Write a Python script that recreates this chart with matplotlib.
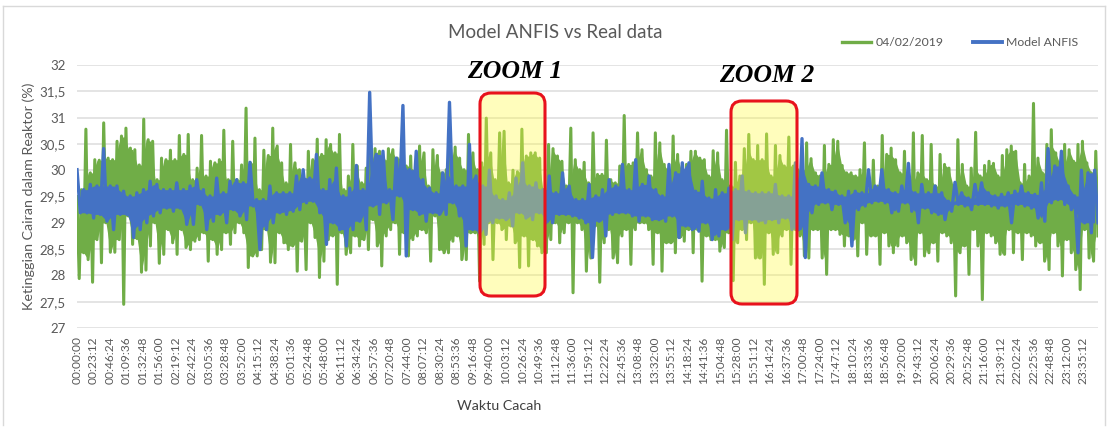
import numpy as np
import matplotlib
matplotlib.use('Agg')
import matplotlib.pyplot as plt
from matplotlib.lines import Line2D
from matplotlib.patches import FancyBboxPatch
from matplotlib.transforms import IdentityTransform

W, H = 1111, 443

# level readings (%), upper and lower swing of each sampling interval
real_high = [
    29.5, 29.63, 30.78, 29.95, 30.2, 30.19, 30.9, 30.23, 30.2, 30.55, 30.65, 30.8, 30.42, 30.39, 30.1,
    30.97, 30.58, 30.55, 29.82, 30.23, 30.2, 30.38, 30.2, 30.66, 30.3, 30.68, 29.82, 30.04, 30.66, 29.89,
    30.17, 30.14, 30.2, 30.76, 29.82, 30.55, 29.82, 30.1, 31.18, 30.14, 30.61, 29.63, 30.38, 30.28, 30.8,
    30.46, 30.14, 29.76, 30.49, 30.14, 30.01, 29.63, 30.36, 30.2, 30.59, 30.3, 30.58, 30.49, 30.33, 30.68,
    29.63, 29.89, 30.49, 30.08, 29.76, 30.04, 30.27, 30.41, 30.36, 30.2, 30.41, 30.39, 30.23, 30.27, 30.08,
    30.27, 30.0, 30.46, 30.33, 29.7, 30.39, 30.28, 29.95, 30.01, 30.39, 30.44, 30.23, 30.01, 30.68, 30.33, 30.01,
    30.14, 30.99, 30.33, 29.82, 30.71, 30.74, 29.76, 30.0, 29.97, 30.78, 30.27, 30.33, 30.33, 30.23, 29.63,
    30.49, 30.41, 30.27, 30.17, 29.7, 30.8, 30.2, 30.01, 30.15, 29.76, 30.71, 29.92, 29.92, 30.57, 29.82,
    29.76, 30.08, 31.04, 30.11, 30.14, 30.71, 30.39, 30.01, 29.89, 30.71, 30.52, 30.11, 30.01, 30.65, 30.3, 30.01,
    30.11, 30.36, 30.36, 30.23, 30.2, 29.89, 30.37, 30.33, 29.82, 30.76, 29.7, 30.15, 29.89, 30.41, 30.68,
    30.2, 30.47, 30.2, 30.69, 29.89, 30.47, 30.28, 30.08, 30.63, 30.08, 30.01, 30.01, 30.52, 30.22, 29.95,
    29.89, 30.47, 30.11, 30.58, 30.55, 30.09, 29.95, 29.95, 29.89, 30.01, 30.52, 29.63, 30.19, 29.7, 30.66, 30.3,
    30.42, 30.2, 29.95, 30.36, 29.76, 30.71, 29.95, 30.66, 29.82, 30.49, 29.7, 30.3, 30.11, 30.04, 29.7,
    30.58, 30.11, 29.7, 30.04, 30.72, 29.89, 30.09, 30.17, 30.13, 29.89, 30.28, 30.39, 30.46, 30.36, 29.76,
    30.11, 29.89, 31.27, 30.23, 29.95, 30.49, 30.77, 30.33, 30.11, 30.49, 30.39, 30.17, 30.49, 30.55, 30.14, 29.95, 30.36,
]
real_low = [
    27.94, 28.43, 28.3, 27.87, 28.68, 28.24, 29.0, 28.44, 28.44, 28.68, 27.45, 29.13, 28.59, 28.7, 28.06,
    28.1, 28.56, 29.0, 28.23, 28.4, 28.87, 28.62, 28.4, 28.87, 28.53, 28.49, 28.65, 28.68, 28.81, 28.27,
    28.68, 28.4, 28.49, 28.81, 28.59, 28.81, 29.0, 28.81, 28.15, 28.37, 28.37, 28.49, 28.87, 28.25, 28.24,
    28.81, 28.62, 28.49, 28.56, 28.08, 28.65, 28.11, 29.0, 28.72, 27.96, 28.27, 28.68, 28.75, 27.83, 28.81,
    28.4, 28.43, 28.75, 28.56, 28.68, 28.49, 29.06, 28.56, 28.18, 28.75, 28.87, 29.0, 28.4, 28.81, 28.37,
    28.68, 28.75, 28.87, 28.81, 28.27, 29.13, 28.49, 28.43, 28.43, 28.65, 28.75, 28.3, 28.3, 28.81, 28.81, 27.89,
    28.59, 29.0, 28.3, 29.0, 28.87, 28.68, 28.94, 28.62, 28.15, 28.75, 28.18, 28.68, 28.56, 28.43, 28.43,
    28.68, 29.0, 28.62, 28.81, 29.0, 27.67, 29.0, 28.87, 28.08, 28.33, 28.94, 27.87, 28.62, 28.87, 28.33,
    28.24, 28.75, 28.87, 28.21, 28.87, 29.0, 29.0, 28.87, 28.21, 28.81, 28.08, 28.62, 28.62, 28.43, 28.72, 28.65,
    28.87, 28.43, 28.87, 27.89, 28.75, 28.68, 28.68, 28.46, 28.53, 28.81, 27.9, 28.62, 28.87, 28.68, 29.0,
    28.33, 28.33, 27.83, 28.81, 28.4, 28.43, 28.75, 28.87, 28.21, 28.87, 28.75, 28.37, 28.33, 28.87, 28.87,
    28.33, 28.02, 28.87, 28.87, 28.78, 28.56, 28.75, 28.68, 28.37, 29.0, 28.4, 28.75, 28.75, 28.21, 28.81, 28.56,
    28.43, 28.56, 28.75, 28.62, 28.3, 28.21, 28.81, 28.37, 28.43, 28.62, 28.27, 28.81, 28.75, 28.62, 27.61,
    28.43, 28.56, 28.02, 28.87, 28.56, 27.54, 28.81, 28.75, 28.62, 28.4, 28.4, 28.87, 28.43, 28.81, 28.3,
    28.81, 28.75, 28.56, 28.62, 28.27, 28.11, 28.81, 28.56, 27.99, 28.68, 28.43, 28.11, 27.73, 28.87, 28.33, 28.27, 28.75,
]
model_high = [
    30.01, 29.63, 29.73, 29.7, 30.41, 29.7, 29.7, 29.6, 29.51, 29.57, 29.63, 29.79, 29.73, 29.63, 29.63,
    29.76, 29.63, 29.7, 29.82, 29.63, 29.51, 29.85, 29.57, 29.79, 29.82, 29.76, 30.15, 29.44, 29.44, 29.7,
    29.57, 29.57, 29.57, 29.89, 30.01, 29.85, 30.3, 29.63, 29.82, 30.04, 29.51, 29.66, 30.09, 29.63, 31.48,
    30.3, 30.36, 29.63, 30.23, 31.23, 30.01, 30.36, 29.82, 29.66, 29.57, 29.95, 31.29, 29.7, 29.7, 30.49, 29.89,
    29.7, 30.0, 29.51, 29.44, 29.57, 29.85, 30.14, 29.7, 29.76, 29.63, 29.89, 29.57, 29.95, 29.7, 29.44,
    29.44, 29.73, 29.51, 29.63, 29.82, 29.7, 30.11, 29.63, 30.2, 29.73, 29.89, 29.63, 29.51, 30.11, 29.95, 30.14,
    30.14, 29.6, 29.79, 29.47, 29.63, 29.57, 29.66, 29.63, 29.89, 29.6, 29.57, 29.57, 29.57, 29.73, 29.51,
    29.51, 30.14, 30.6, 29.73, 29.7, 29.95, 29.63, 29.6, 29.51, 29.6, 29.6, 29.57, 30.01, 29.7, 30.01, 29.63,
    29.57, 29.7, 30.13, 29.57, 29.73, 29.57, 29.7, 29.57, 29.41, 29.77, 29.57, 29.47, 29.73, 29.76, 29.57,
    29.51, 29.54, 29.57, 29.6, 29.7, 29.57, 29.54, 29.76, 30.41, 30.08, 30.36, 29.7, 29.51, 30.0, 29.95, 30.0,
]
model_low = [
    29.19, 29.19, 29.09, 29.16, 29.03, 28.87, 29.16, 29.16, 28.72, 28.87, 29.0, 29.13, 29.19, 29.28, 29.22,
    29.28, 28.97, 28.97, 29.35, 28.87, 29.03, 29.16, 29.0, 29.25, 29.13, 29.06, 29.32, 28.49, 28.87, 29.0,
    29.19, 29.16, 29.22, 29.25, 29.38, 29.41, 29.19, 28.59, 29.0, 28.87, 28.56, 28.87, 29.03, 28.87, 29.32,
    29.16, 29.38, 29.06, 29.51, 28.37, 29.25, 29.16, 29.03, 29.19, 29.16, 29.16, 29.38, 29.13, 28.56, 28.87, 28.81,
    28.78, 29.0, 29.09, 29.06, 28.94, 29.19, 29.09, 29.06, 29.19, 29.0, 29.0, 29.16, 29.16, 29.13, 29.09,
    29.0, 28.34, 29.03, 28.75, 29.16, 29.19, 29.19, 29.13, 29.03, 29.13, 29.06, 29.06, 29.03, 29.13, 28.72, 28.94,
    28.87, 28.84, 29.0, 28.68, 28.75, 28.87, 28.68, 29.06, 28.81, 29.06, 29.03, 29.0, 29.06, 29.0, 29.09,
    28.87, 28.87, 28.34, 29.19, 29.35, 29.38, 29.25, 29.35, 29.0, 28.56, 29.25, 29.32, 29.38, 29.41, 29.38, 29.19,
    29.22, 29.38, 29.22, 29.0, 29.28, 29.19, 29.16, 29.06, 29.22, 29.35, 29.32, 29.25, 29.35, 29.35, 29.32,
    29.28, 29.32, 29.0, 29.35, 29.32, 29.28, 29.09, 29.03, 29.38, 29.44, 29.35, 29.25, 28.43, 29.0, 28.81, 29.0,
]

y_ticks = [27, 27.5, 28, 28.5, 29, 29.5, 30, 30.5, 31, 31.5, 32]
y_tick_labels = ['27', '27,5', '28', '28,5', '29', '29,5', '30', '30,5', '31', '31,5', '32']
time_labels = [
    '00:00:00', '00:23:12', '00:46:24', '01:09:36', '01:32:48', '01:56:00', '02:19:12', '02:42:24',
    '03:05:36', '03:28:48', '03:52:00', '04:15:12', '04:38:24', '05:01:36', '05:24:48', '05:48:00',
    '06:11:12', '06:34:24', '06:57:36', '07:20:48', '07:44:00', '08:07:12', '08:30:24', '08:53:36',
    '09:16:48', '09:40:00', '10:03:12', '10:26:24', '10:49:36', '11:12:48', '11:36:00', '11:59:12',
    '12:22:24', '12:45:36', '13:08:48', '13:32:00', '13:55:12', '14:18:24', '14:41:36', '15:04:48',
    '15:28:00', '15:51:12', '16:14:24', '16:37:36', '17:00:48', '17:24:00', '17:47:12', '18:10:24',
    '18:33:36', '18:56:48', '19:20:00', '19:43:12', '20:06:24', '20:29:36', '20:52:48', '21:16:00',
    '21:39:12', '22:02:24', '22:25:36', '22:48:48', '23:12:00', '23:35:12',
]

GREEN = '#70AD47'
BLUE = '#4472C4'
TEXT = '#595959'
GRID = '#DCDCDC'
FRAME = '#D9D9D9'

plt.rcParams['font.family'] = ['Lato', 'DejaVu Sans']

DAY_END = 86180.


def draw_trace(axes, high, low, color, lw, zorder):
    # zigzag between the swings, over a closed core where neighbouring intervals overlap
    high, low = np.asarray(high), np.asarray(low)
    n = len(high)
    t = np.linspace(0, DAY_END, n)
    upper = np.minimum(high[:-1], high[1:])
    lower = np.maximum(low[:-1], low[1:])
    axes.fill_between((t[:-1] + t[1:]) / 2, lower, upper, color=color, lw=0, zorder=zorder)
    axes.plot(np.linspace(0, DAY_END, 2 * n), np.column_stack([high, low]).ravel(),
              color=color, lw=lw, zorder=zorder)


def zoom_box(x0, y0, x1, y1):
    fig.add_artist(FancyBboxPatch((x0 + 9, H - y1 + 9), x1 - x0 - 18, y1 - y0 - 18,
                                  boxstyle='round,pad=9,rounding_size=11',
                                  transform=IdentityTransform(), linewidth=2.2,
                                  edgecolor='#E8121C', facecolor=(1, 0.98, 0.25, 0.35), zorder=5))


fig = plt.figure(figsize=(W / 100, H / 100), dpi=100, facecolor='white')
ax = fig.add_axes([77 / W, 1 - 328 / H, (1098 - 77) / W, (328 - 65) / H])

draw_trace(ax, real_high, real_low, GREEN, 2.2, 3)
draw_trace(ax, model_high, model_low, BLUE, 2.4, 4)

ax.set_xlim(0, DAY_END)
ax.set_ylim(27, 32)
ax.set_yticks(y_ticks, y_tick_labels)
ax.set_xticks(np.arange(len(time_labels)) * 1392., time_labels, rotation=90)
ax.tick_params(axis='both', length=0, colors=TEXT)
ax.tick_params(axis='y', labelsize=9.5, pad=8)
ax.tick_params(axis='x', labelsize=8.6, pad=6)
ax.grid(axis='y', color=GRID, lw=1.1, zorder=0)
ax.set_axisbelow(True)
for s in ax.spines.values():
    s.set_visible(False)

fig.text(555 / W, 1 - 32 / H, 'Model ANFIS vs Real data', fontsize=13.5, color=TEXT, ha='center', va='center')
fig.text(499 / W, 1 - 406 / H, 'Waktu Cacah', fontsize=10.3, color='#404040', ha='center', va='center')
fig.text(29 / W, 1 - 196 / H, 'Ketinggian Cairan dalam Reaktor (%)', fontsize=10.3, color=TEXT,
         rotation=90, ha='center', va='center')

handles = [Line2D([], [], color=GREEN, lw=2.4), Line2D([], [], color=BLUE, lw=2.8)]
fig.legend(handles, ['04/02/2019', 'Model ANFIS'], ncol=2, frameon=False, fontsize=8.8,
           labelcolor=TEXT, loc='center', bbox_to_anchor=(960 / W, 1 - 43 / H),
           handlelength=2.4, handletextpad=0.35, columnspacing=2.4)

zoom_box(480, 93, 545, 296)
zoom_box(731, 101, 797, 304)
zoom_font = dict(family='Liberation Serif', style='italic', weight='bold', fontsize=18.5,
                 color='black', ha='center', va='center', zorder=6)
fig.text(515 / W, 1 - 72 / H, 'ZOOM 1', **zoom_font)
fig.text(767 / W, 1 - 75 / H, 'ZOOM 2', **zoom_font)

# chart frame, open along the bottom
for xs, ys in [((3, 3), (6, 425)), ((3, 1105), (6, 6)), ((1105, 1105), (6, 425))]:
    fig.add_artist(Line2D(np.array(xs) / W, 1 - np.array(ys) / H, color=FRAME, lw=1.0))

plt.savefig('out.png', dpi=100)
